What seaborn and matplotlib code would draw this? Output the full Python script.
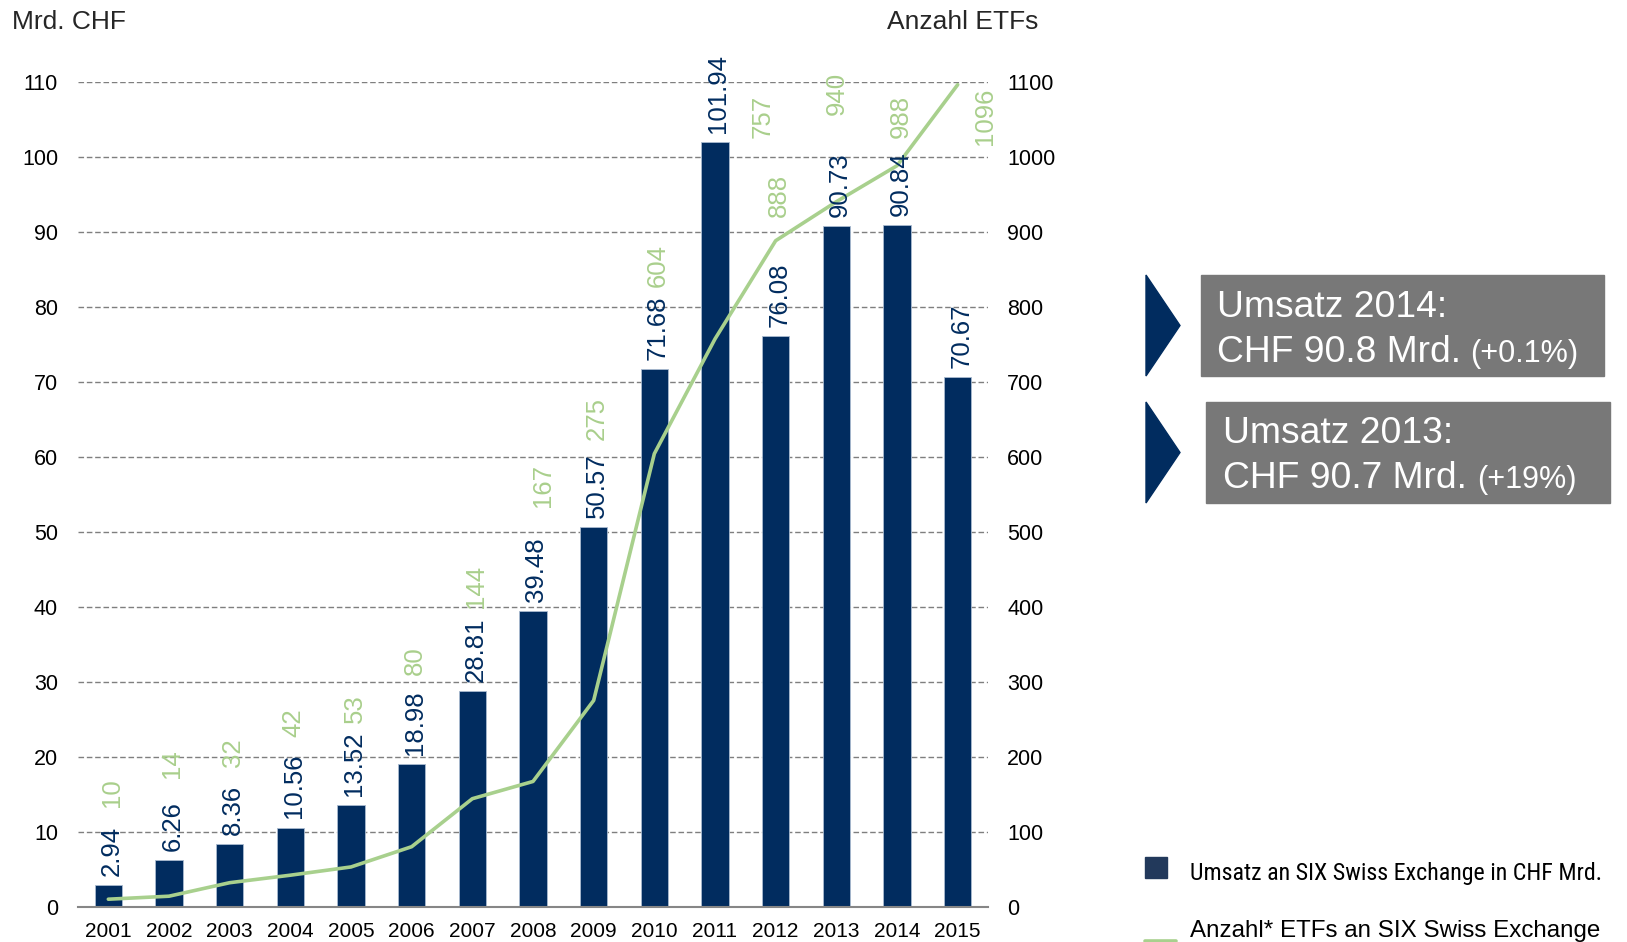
import numpy as np
import matplotlib
matplotlib.use("Agg")
import matplotlib.pyplot as plt
import seaborn as sns
from matplotlib import font_manager
from matplotlib.patches import Rectangle, Polygon
from matplotlib.lines import Line2D

# ---------------- data ----------------
years = ["2001", "2002", "2003", "2004", "2005", "2006", "2007", "2008",
         "2009", "2010", "2011", "2012", "2013", "2014", "2015"]
turnover_bn_chf = [2.94, 6.26, 8.36, 10.56, 13.52, 18.98, 28.81, 39.48,
                   50.57, 71.68, 101.94, 76.08, 90.73, 90.84, 70.67]
etf_count = [10, 14, 32, 42, 53, 80, 144, 167, 275, 604, 757, 888, 940, 988, 1096]
left_ticks = [0, 10, 20, 30, 40, 50, 60, 70, 80, 90, 100, 110]
right_ticks = [0, 100, 200, 300, 400, 500, 600, 700, 800, 900, 1000, 1100]

# ---------------- layout (hand placed count labels, left-axis units) ----------------
count_label_bottom = [13.3, 17.2, 18.6, 22.6, 24.5, 30.9, 39.8, 53.3, 62.2,
                      82.6, 102.5, 91.9, 105.5, 102.5, 101.5]
count_label_dx = [0, 0, 0, 0, 0, 0, 0, 0.1, 0, 0, 0.72, 0, -0.05, 0, 0.39]

NAVY = "#012C5F"
GREEN_LINE = "#A8D08D"
GREEN_TXT = "#A9CF8C"
GRID = "#7F7F7F"
BOX = "#787878"

sns.set_theme(style="white")
plt.rcParams["font.family"] = ["Liberation Sans", "DejaVu Sans"]

W, H = 1627, 942
fig = plt.figure(figsize=(W / 100, H / 100), dpi=100)


def fx(px):
    return px / W


def fy(py):
    return 1 - py / H


ax = fig.add_axes([fx(78), fy(906.7), 910 / W, 825 / H])
sns.barplot(x=years, y=turnover_bn_chf, color=NAVY, saturation=1, width=0.45,
            edgecolor="#A9BBD0", linewidth=0.6, ax=ax, zorder=2)
ax.set_xlim(-0.5, len(years) - 0.5)
ax.set_ylim(0, 110)
ax.set_yticks(left_ticks)
ax.set_yticklabels([str(t) for t in left_ticks])
ax.set_xlabel("")
ax.set_ylabel("")
ax.yaxis.grid(True, linestyle=(0, (4, 2)), color=GRID, linewidth=1.0)
ax.xaxis.grid(False)
ax.set_axisbelow(True)
for s in ["top", "left", "right"]:
    ax.spines[s].set_visible(False)
ax.spines["bottom"].set_color("#868686")
ax.spines["bottom"].set_linewidth(1.5)
ax.tick_params(axis="y", length=0, pad=14.4, labelsize=15.5, labelcolor="black")
ax.set_xticks(range(len(years)))
ax.set_xticklabels(years)
ax.set_xticks(np.arange(-0.5, len(years), 1.0), minor=True)
ax.tick_params(axis="x", which="major", length=0, pad=11, labelsize=15, labelcolor="black")
ax.tick_params(axis="x", which="minor", length=4.5, width=1.5, color="#868686", direction="out")

ax2 = ax.twinx()
sns.lineplot(x=np.arange(len(years)), y=etf_count, ax=ax2, color=GREEN_LINE,
             linewidth=2.6, zorder=3)
ax2.set_ylim(0, 1100)
ax2.set_xlim(-0.5, len(years) - 0.5)
ax2.set_yticks(right_ticks)
ax2.set_yticklabels([str(t) for t in right_ticks])
ax2.set_ylabel("")
ax2.set_xlabel("")
for s in ["top", "left", "right", "bottom"]:
    ax2.spines[s].set_visible(False)
ax2.tick_params(axis="y", length=0, pad=13.7, labelsize=15.5, labelcolor="black")
ax2.grid(False)

# value labels
for i, v in enumerate(turnover_bn_chf):
    ax2.annotate(f"{v:.2f}", xy=(i, v * 10), xytext=(2.5, 6.5), textcoords="offset points",
                 rotation=90, ha="center", va="bottom", fontsize=18.5, color=NAVY, zorder=5)
for i, c in enumerate(etf_count):
    ax2.annotate(str(c), xy=(i + count_label_dx[i], count_label_bottom[i] * 10), xytext=(2.5, 0),
                 textcoords="offset points", rotation=90, ha="center", va="bottom",
                 fontsize=18.5, color=GREEN_TXT, zorder=5)

# axis titles
fig.text(fx(12), fy(29), "Mrd. CHF", fontsize=19, ha="left", va="baseline")
fig.text(fx(1038), fy(29), "Anzahl ETFs", fontsize=19, ha="right", va="baseline")

# call-out boxes
boxes = [
    (1201, 275, 1604, 376, 1217, 317, 362, "Umsatz 2014:", "CHF 90.8 Mrd.", "(+0.1%)", 1470),
    (1206, 402, 1610, 503, 1223, 443, 488, "Umsatz 2013:", "CHF 90.7 Mrd.", "(+19%)", 1477),
]
for (x0, y0, x1, y1, tx, b1, b2, l1, l2, l3, tx3) in boxes:
    fig.patches.append(Rectangle((fx(x0), fy(y1)), fx(x1) - fx(x0), fy(y0) - fy(y1),
                                 transform=fig.transFigure, color=BOX, zorder=1))
    fig.patches.append(Polygon([(fx(1146), fy(y0)), (fx(1180), fy((y0 + y1) / 2)),
                                (fx(1146), fy(y1))], closed=True,
                               transform=fig.transFigure, color=NAVY, zorder=1))
    fig.text(fx(tx), fy(b1), l1, fontsize=26.8, color="white", ha="left", va="baseline")
    fig.text(fx(tx), fy(b2), l2, fontsize=26.8, color="white", ha="left", va="baseline")
    fig.text(fx(tx3), fy(b2), l3, fontsize=22, color="white", ha="left", va="baseline")

# legend
fig.patches.append(Rectangle((fx(1145), fy(878)), fx(1167) - fx(1145), fy(857) - fy(878),
                             transform=fig.transFigure, color="#22395B", zorder=1))
names = {f.name for f in font_manager.fontManager.ttflist}
fam = ["Liberation Sans", "DejaVu Sans"]
for cand in ["Liberation Sans Narrow", "Arial Narrow", "Roboto Condensed", "Open Sans Condensed"]:
    if cand in names:
        fam = [cand, "DejaVu Sans"]
        break
t1 = fig.text(fx(1190), fy(880), "Umsatz an SIX Swiss Exchange in CHF Mrd.", fontsize=18,
              family=fam, ha="left", va="baseline", color="black")
renderer = fig.canvas.get_renderer()
w = t1.get_window_extent(renderer).width
t1.set_fontsize(min(18.0, 18 * 413 / w))
fig.text(fx(1190), fy(937), "Anzahl* ETFs an SIX Swiss Exchange", fontsize=17.4,
         ha="left", va="baseline", color="black")
fig.lines.append(Line2D([fx(1145), fx(1176)], [fy(941), fy(941)], transform=fig.transFigure,
                        color=GREEN_LINE, linewidth=2.6))

fig.savefig("out.png", dpi=100)
